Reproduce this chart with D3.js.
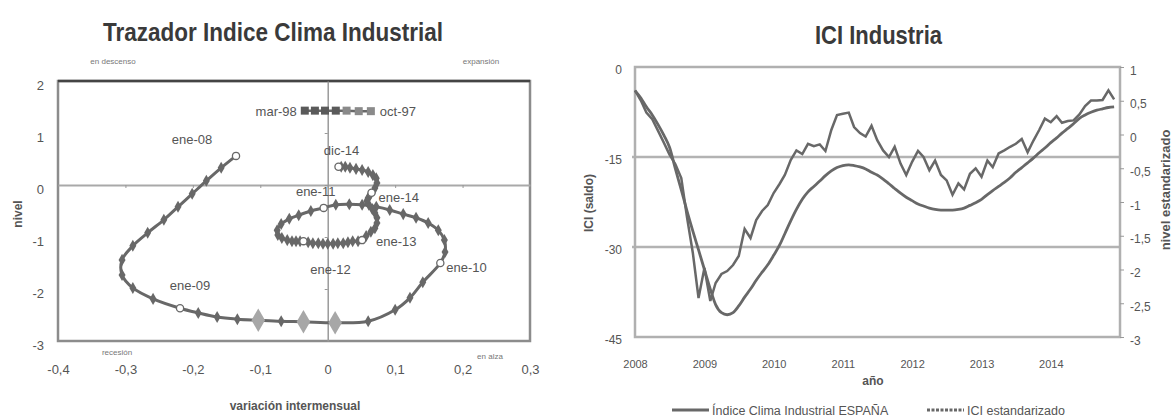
<!DOCTYPE html>
<html>
<head>
<meta charset="utf-8">
<script src="https://cdn.jsdelivr.net/npm/d3@7"></script>
<style>
  body { margin: 0; background: #fff; }
  svg text { font-family: "Liberation Sans", Arial, sans-serif; fill: #555; }
</style>
</head>
<body>
<div id="chart"></div>
<script>
// ---- data: trazador (left panel), monthly ene-08 .. dic-14
const trazX = [
  -0.136, -0.158, -0.180, -0.201, -0.222, -0.243, -0.267, -0.289, -0.305, -0.305, -0.289, -0.259,
  -0.219, -0.192, -0.164, -0.134, -0.103, -0.069, -0.036, 0.011, 0.060, 0.100, 0.122, 0.141,
  0.167, 0.174, 0.173, 0.164, 0.149, 0.131, 0.112, 0.092, 0.072, 0.051, 0.032, 0.012,
  -0.006, -0.025, -0.043, -0.057, -0.069, -0.075, -0.074, -0.068, -0.060, -0.053, -0.047, -0.041,
  -0.036, -0.029, -0.022, -0.014, -0.007, 0.000, 0.008, 0.015, 0.023, 0.030, 0.037, 0.045,
  0.051, 0.057, 0.064, 0.070, 0.073, 0.073, 0.070, 0.066, 0.061, 0.058, 0.060, 0.063,
  0.065, 0.070, 0.073, 0.072, 0.067, 0.060, 0.051, 0.042, 0.033, 0.026, 0.020, 0.016
];
const trazY = [
  0.56, 0.33, 0.08, -0.17, -0.42, -0.67, -0.92, -1.17, -1.44, -1.73, -1.98, -2.19,
  -2.37, -2.46, -2.54, -2.58, -2.60, -2.62, -2.63, -2.65, -2.62, -2.40, -2.17, -1.87,
  -1.50, -1.29, -1.06, -0.87, -0.73, -0.63, -0.56, -0.48, -0.42, -0.38, -0.37, -0.38,
  -0.44, -0.50, -0.58, -0.65, -0.75, -0.87, -0.96, -1.02, -1.06, -1.08, -1.08, -1.08,
  -1.08, -1.10, -1.12, -1.12, -1.13, -1.13, -1.13, -1.12, -1.12, -1.10, -1.08, -1.08,
  -1.06, -0.98, -0.90, -0.83, -0.73, -0.63, -0.54, -0.46, -0.38, -0.31, -0.25, -0.19,
  -0.15, -0.06, 0.04, 0.13, 0.19, 0.25, 0.29, 0.31, 0.33, 0.35, 0.35, 0.35
];
// labelled months (index into the series) and their text
const trazLabelIdx = [0, 12, 24, 36, 48, 60, 72, 83];
const trazLabels = ["ene-08", "ene-09", "ene-10", "ene-11", "ene-12", "ene-13", "ene-14", "dic-14"];
// highlighted (light) months
const trazLightIdx = [16, 18, 19];
// old reference points oct-97 .. mar-98
const histX = [-0.034, -0.019, -0.004, 0.012, 0.028, 0.046, 0.064];
const histY = [1.43, 1.43, 1.43, 1.43, 1.43, 1.42, 1.42];
const histLabels = ["mar-98", "oct-97"];
const trazXTicks = [-0.4, -0.3, -0.2, -0.1, 0, 0.1, 0.2, 0.3];
const trazYTicks = [2, 1, 0, -1, -2, -3];

// ---- data: ICI Industria (right panel), monthly 2008-01 .. 2014-12
const iciSaldo = [
  -3.9, -5.6, -7.6, -8.7, -10.6, -12.6, -14.6, -16.2, -18.5, -25.0, -31.0, -38.5,
  -33.5, -39.0, -36.0, -34.5, -34.0, -33.0, -31.5, -27.0, -28.5, -25.5, -24.0, -23.0,
  -21.0, -19.5, -18.0, -15.5, -13.9, -14.5, -12.8, -13.2, -12.9, -14.0, -10.5, -8.0,
  -7.8, -7.6, -10.0, -11.0, -11.6, -9.8, -12.2, -13.9, -15.0, -13.3, -16.1, -18.0,
  -15.8, -14.0, -15.0, -17.2, -15.6, -18.0, -18.9, -21.3, -19.4, -20.4, -17.8, -16.9,
  -18.3, -15.6, -16.7, -14.4, -13.9, -13.3, -12.8, -12.0, -14.2, -12.3, -10.5, -8.6,
  -9.2, -8.2, -9.3, -9.0, -8.9, -7.9, -6.5, -5.6, -5.6, -5.5, -3.9, -5.4
];
// standardized level (right axis units)
const iciStd = [
  0.65, 0.54, 0.41, 0.29, 0.15, -0.01, -0.19, -0.51, -0.82, -1.13, -1.43, -1.71,
  -2.00, -2.29, -2.52, -2.64, -2.67, -2.64, -2.54, -2.41, -2.29, -2.16, -2.04, -1.93,
  -1.79, -1.64, -1.47, -1.28, -1.11, -0.96, -0.85, -0.77, -0.69, -0.61, -0.54, -0.49,
  -0.46, -0.45, -0.46, -0.48, -0.51, -0.56, -0.60, -0.66, -0.73, -0.80, -0.87, -0.93,
  -0.98, -1.03, -1.06, -1.09, -1.11, -1.12, -1.12, -1.12, -1.11, -1.09, -1.05, -1.01,
  -0.96, -0.89, -0.83, -0.77, -0.71, -0.64, -0.56, -0.49, -0.42, -0.35, -0.27, -0.20,
  -0.12, -0.05, 0.02, 0.09, 0.16, 0.24, 0.29, 0.33, 0.36, 0.38, 0.40, 0.41
];
const iciYears = [2008, 2009, 2010, 2011, 2012, 2013, 2014];
const iciLeftTicks = [0, -15, -30, -45];
const iciRightTicks = [1, 0.5, 0, -0.5, -1, -1.5, -2, -2.5, -3];
const legendNames = ["Índice Clima Industrial ESPAÑA", "ICI estandarizado"];

const es = d3.formatLocale({ decimal: ",", thousands: ".", grouping: [3], currency: ["", " €"], minus: "-" });
const fmt = es.format("");

const W = 1172, H = 419;
const svg = d3.select("#chart").append("svg")
    .attr("width", W).attr("height", H);

const dark = "#686868";
const frameGrey = "#a9a9a9";

// ================= left panel: trazador =================
const L = { left: 58, right: 530, top: 81, bottom: 341 };
const x = d3.scaleLinear().domain([-0.4, 0.3]).range([L.left, L.right]);
const y = d3.scaleLinear().domain([-3, 2]).range([L.bottom, L.top]);

svg.append("text")
    .attr("x", 103).attr("y", 41)
    .attr("textLength", 340).attr("lengthAdjust", "spacingAndGlyphs")
    .style("font-size", "26px").style("font-weight", "bold").style("fill", "#3a3a3a")
    .text("Trazador Indice Clima Industrial");

// frame
svg.append("rect")
    .attr("x", L.left).attr("y", L.top)
    .attr("width", L.right - L.left).attr("height", L.bottom - L.top)
    .attr("fill", "none").attr("stroke", "#8c8c8c").attr("stroke-width", 2.5);
svg.append("line")
    .attr("x1", L.left).attr("x2", L.right).attr("y1", L.top).attr("y2", L.top)
    .attr("stroke", "#444").attr("stroke-width", 2.5);

// zero lines with small ticks
const zx = svg.append("g").attr("transform", `translate(0,${y(0)})`)
    .call(d3.axisBottom(x).tickValues(trazXTicks.filter(d => d > -0.4 && d < 0.3)).tickSizeInner(3).tickSizeOuter(0).tickFormat(""));
zx.select(".domain").attr("stroke", frameGrey).attr("stroke-width", 2);
zx.selectAll(".tick line").attr("stroke", "#999");
const zy = svg.append("g").attr("transform", `translate(${x(0)},0)`)
    .call(d3.axisLeft(y).tickValues(trazYTicks.filter(d => d > -3 && d < 2)).tickSizeInner(3).tickSizeOuter(0).tickFormat(""));
zy.select(".domain").attr("stroke", "#9a9a9a").attr("stroke-width", 1.5);
zy.selectAll(".tick line").attr("stroke", "#999");

// tick labels
const xa = svg.append("g").attr("transform", `translate(0,${L.bottom})`)
    .call(d3.axisBottom(x).tickValues(trazXTicks).tickSize(0).tickPadding(24).tickFormat(fmt));
xa.select(".domain").remove();
xa.selectAll("text").style("font-size", "13px").style("fill", "#555").style("font-family", null);
const ya = svg.append("g").attr("transform", `translate(${L.left},0)`)
    .call(d3.axisLeft(y).tickValues(trazYTicks).tickSize(0).tickPadding(14).tickFormat(fmt));
ya.select(".domain").remove();
ya.selectAll("text").attr("dy", "0.65em").style("font-size", "13px").style("fill", "#555").style("font-family", null);

svg.append("text").attr("transform", `translate(22,214) rotate(-90)`)
    .attr("text-anchor", "middle").style("font-size", "12px").style("font-weight", "bold")
    .text("nivel");
svg.append("text").attr("x", 295).attr("y", 410).attr("text-anchor", "middle")
    .style("font-size", "12px").style("font-weight", "bold").text("variación intermensual");

// quadrant notes
const notes = [["en descenso", 113, 64], ["expansión", 481, 64], ["recesión", 117, 355], ["en alza", 490, 359]];
svg.selectAll(".note").data(notes).join("text").attr("class", "note")
    .attr("x", d => d[1]).attr("y", d => d[2]).attr("text-anchor", "middle")
    .style("font-size", "8px").style("fill", "#777").text(d => d[0]);

// trajectory
const trazPts = trazX.map((v, i) => ({ x: v, y: trazY[i], i }));
svg.append("path").datum(trazPts)
    .attr("d", d3.line().x(d => x(d.x)).y(d => y(d.y)).curve(d3.curveCatmullRom))
    .attr("fill", "none").attr("stroke", dark).attr("stroke-width", 3);

svg.selectAll(".mk").data(trazPts.filter(d => !trazLabelIdx.includes(d.i) && !trazLightIdx.includes(d.i)))
  .join("path").attr("class", "mk")
    .attr("transform", d => `translate(${x(d.x)},${y(d.y)})`)
    .attr("d", d3.symbol(d3.symbolDiamond, 42))
    .attr("fill", dark);
svg.selectAll(".mkl").data(trazPts.filter(d => trazLightIdx.includes(d.i)))
  .join("path").attr("class", "mkl")
    .attr("transform", d => `translate(${x(d.x)},${y(d.y)})`)
    .attr("d", d3.symbol(d3.symbolDiamond, 160))
    .attr("fill", "#a7a7a7");
svg.selectAll(".mko").data(trazPts.filter(d => trazLabelIdx.includes(d.i)))
  .join("circle").attr("class", "mko")
    .attr("cx", d => x(d.x)).attr("cy", d => y(d.y)).attr("r", 3.6)
    .attr("fill", "#fff").attr("stroke", dark).attr("stroke-width", 1.3);

// month labels, offsets from their point
const labOff = {
  "ene-08": [-44, -12, "middle"], "ene-09": [10, -18, "middle"], "ene-10": [6, 9, "start"],
  "ene-11": [-8, -12, "middle"], "ene-12": [27, 33, "middle"], "ene-13": [14, 6, "start"],
  "ene-14": [7, 9, "start"], "dic-14": [3, -12, "middle"]
};
trazLabelIdx.forEach((idx, k) => {
  const t = trazLabels[k], o = labOff[t];
  svg.append("text")
      .attr("x", x(trazX[idx]) + o[0]).attr("y", y(trazY[idx]) + o[1])
      .attr("text-anchor", o[2])
      .style("font-size", "13px").style("fill", "#555").text(t);
});

// historical cluster
svg.append("path").datum(histX.map((v, i) => [v, histY[i]]))
    .attr("d", d3.line().x(d => x(d[0])).y(d => y(d[1])))
    .attr("stroke", dark).attr("stroke-width", 2.5).attr("fill", "none");
svg.selectAll(".hist").data(histX.map((v, i) => [v, histY[i], i]))
  .join("rect").attr("class", "hist")
    .attr("x", d => x(d[0]) - 4).attr("y", d => y(d[1]) - 4)
    .attr("width", 8).attr("height", 8)
    .attr("fill", d => d[2] < 4 ? "#5a5a5a" : "#8a8a8a");
svg.append("text").attr("x", x(histX[0]) - 8).attr("y", y(histY[0]) + 5)
    .attr("text-anchor", "end").style("font-size", "13px").text(histLabels[0]);
svg.append("text").attr("x", x(histX[histX.length - 1]) + 9).attr("y", y(histY[0]) + 5)
    .style("font-size", "13px").text(histLabels[1]);

// ================= right panel: ICI Industria =================
const R = { left: 635, right: 1120, top: 67, bottom: 337 };
const months = iciSaldo.map((d, i) => new Date(2008, i, 1));
const xt = d3.scaleTime().domain([new Date(2008, 0, 1), new Date(2015, 0, 1)]).range([R.left, R.right]);
const yl = d3.scaleLinear().domain([-45, 0]).range([R.bottom, R.top]);
const yr = d3.scaleLinear().domain([-3, 1]).range([R.bottom, R.top]);

svg.append("text").attr("x", 815).attr("y", 44)
    .attr("textLength", 127).attr("lengthAdjust", "spacingAndGlyphs")
    .style("font-size", "26px").style("font-weight", "bold").style("fill", "#3a3a3a")
    .text("ICI Industria");

// gridlines + frame
svg.selectAll(".grid").data([-15, -30]).join("line").attr("class", "grid")
    .attr("x1", R.left - 3).attr("x2", R.right).attr("y1", d => yl(d)).attr("y2", d => yl(d))
    .attr("stroke", "#b3b3b3").attr("stroke-width", 2.5);
svg.append("rect").attr("x", R.left).attr("y", R.top)
    .attr("width", R.right - R.left).attr("height", R.bottom - R.top)
    .attr("fill", "none").attr("stroke", "#b0b0b0").attr("stroke-width", 2.5);

const la = svg.append("g").attr("transform", `translate(${R.left},0)`)
    .call(d3.axisLeft(yl).tickValues(iciLeftTicks).tickSize(0).tickPadding(13).tickFormat(fmt));
la.select(".domain").remove();
la.selectAll("text").attr("dy", "0.55em").style("font-size", "12px").style("fill", "#555").style("font-family", null);

const ra = svg.append("g").attr("transform", `translate(${R.right},0)`)
    .call(d3.axisRight(yr).tickValues(iciRightTicks).tickSize(4).tickPadding(6).tickFormat(fmt));
ra.select(".domain").remove();
ra.selectAll(".tick line").attr("stroke", "#999");
ra.selectAll("text").attr("dy", "0.6em").style("font-size", "12px").style("fill", "#555").style("font-family", null);

const ba = svg.append("g").attr("transform", `translate(0,${R.bottom})`)
    .call(d3.axisBottom(xt).tickValues(iciYears.map(yv => new Date(yv, 0, 1)))
      .tickSize(0).tickPadding(23).tickFormat(d3.timeFormat("%Y")));
ba.select(".domain").remove();
ba.selectAll("text").style("font-size", "11px").style("fill", "#555").style("font-family", null);

svg.append("text").attr("transform", "translate(593,203) rotate(-90)")
    .attr("text-anchor", "middle").style("font-size", "12px").style("font-weight", "bold")
    .text("ICI (saldo)");
svg.append("text").attr("transform", "translate(1170,190) rotate(-90)")
    .attr("text-anchor", "middle").style("font-size", "13px").style("font-weight", "bold")
    .text("nivel estandarizado");
svg.append("text").attr("x", 873).attr("y", 385).attr("text-anchor", "middle")
    .style("font-size", "12px").style("font-weight", "bold").text("año");

// series lines
svg.append("path").datum(iciStd)
    .attr("d", d3.line().x((d, i) => xt(months[i])).y(d => yr(d)).curve(d3.curveMonotoneX))
    .attr("fill", "none").attr("stroke", dark).attr("stroke-width", 2.8);
svg.append("path").datum(iciSaldo)
    .attr("d", d3.line().x((d, i) => xt(months[i])).y(d => yl(d)))
    .attr("fill", "none").attr("stroke", dark).attr("stroke-width", 2.5);

// legend
const lg = [
  { name: legendNames[0], x: 672, dash: null },
  { name: legendNames[1], x: 927, dash: "3,1.5" }
];
lg.forEach(d => {
  svg.append("line").attr("x1", d.x).attr("x2", d.x + 37).attr("y1", 410).attr("y2", 410)
      .attr("stroke", dark).attr("stroke-width", 3).attr("stroke-dasharray", d.dash);
  svg.append("text").attr("x", d.x + 40).attr("y", 415)
      .style("font-size", "12.5px").text(d.name);
});
</script>
</body>
</html>
